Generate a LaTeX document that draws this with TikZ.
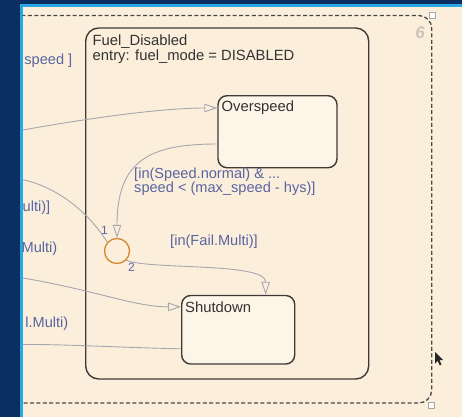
\documentclass[tikz,border=0pt]{standalone}
\usepackage{fontspec}
\setmainfont{Liberation Sans}
\usetikzlibrary{arrows.meta}

\definecolor{navy}{HTML}{0C2F62}
\definecolor{edgecyan}{HTML}{2AA8E4}
\definecolor{paper}{HTML}{FBEFDC}
\definecolor{paperlight}{HTML}{FDF5E7}
\definecolor{statebord}{HTML}{3E3B36}
\definecolor{wire}{HTML}{A6A6AE}
\definecolor{guard}{HTML}{5A64A0}
\definecolor{junc}{HTML}{D5872E}
\definecolor{boxdash}{HTML}{4A4844}
\definecolor{chartnum}{HTML}{CBC6BD}

\tikzset{
  statebox/.style={draw=statebord, line width=1.4pt, rounded corners=9pt,
    fill=paperlight, inner sep=0pt, anchor=north west},
  superbox/.style={draw=statebord, line width=1.4pt, rounded corners=13pt,
    inner sep=0pt, anchor=north west},
  statetext/.style={text=black!80, font=\fontsize{14.8}{15}\selectfont,
    anchor=base west, inner sep=0pt},
  guardtext/.style={text=guard, font=\fontsize{14.6}{14}\selectfont,
    anchor=base west, inner sep=0pt, align=left},
  ordertext/.style={text=guard, font=\fontsize{12}{12}\selectfont, inner sep=0pt},
  junction/.style={circle, draw=junc, line width=1.3pt, minimum size=25pt,
    inner sep=0pt},
  trans/.style={draw=wire, line width=0.9pt},
  transarr/.style={trans, -{Triangle[open, length=13pt, width=8.5pt, fill=paper]}},
  handle/.style={draw=black!35, fill=white, line width=0.6pt,
    minimum size=6pt, inner sep=0pt},
}

\begin{document}
\begin{tikzpicture}[x=1pt, y=-1pt]
\useasboundingbox (0,0) rectangle (462,417);

% window frame and canvas
\fill[navy] (0,0) rectangle (462,417);
\fill[paper] (22,6) rectangle (462,417);
\draw[edgecyan, line width=2.2pt] (21.5,417) -- (21.5,5.5) -- (462,5.5);

\begin{scope}
\clip (22.6,6.6) rectangle (462,417);

% dashed outer state boundary
\draw[boxdash, line width=1.3pt, dash pattern=on 4pt off 2.4pt, rounded corners=13pt]
  (-30,15.5) rectangle (431.7,403);
\node[handle] (hTop) at (432,15.5) {};
\node[handle] (hBot) at (431.7,405) {};
\node[text=chartnum, font=\fontsize{17}{17}\selectfont\bfseries\itshape] (num) at (420,33) {6};

% states
\node[superbox, minimum width=283pt, minimum height=351pt] (fd) at (85,27.3) {};
\node[statebox, minimum width=119pt, minimum height=72pt] (ovs) at (217.3,95) {};
\node[statebox, minimum width=113pt, minimum height=68.5pt] (shd) at (181,294.8) {};
\node[junction] (jn) at (117,251) {};

\node[statetext] (fdName) at (92.5,46) {Fuel\_Disabled};
\node[statetext] (fdEntry) at (92.5,61) {entry: fuel\_mode = DISABLED};
\node[statetext] (ovsName) at (221.5,111) {Overspeed};
\node[statetext] (shdName) at (185,312) {Shutdown};

% free ends of transitions leaving the view on the left
\coordinate (inA) at (20,130.5);
\coordinate (outB) at (20,179);
\coordinate (inC) at (20,277.5);
\coordinate (outD) at (20,344.5);

% transitions
\draw[transarr] (inA) .. controls (95,117) and (165,108) .. ([yshift=-13pt]ovs.north west);
\draw[trans] (jn.138) .. controls (95,222) and (65,188) .. (outB);
\draw[transarr] ([yshift=-49pt]ovs.north west) .. controls (150,144) and (117,160) .. (jn.north);
\draw[transarr] (jn.-45) .. controls (150,270) and (265.7,262) .. ([xshift=84.7pt]shd.north west);
\draw[transarr] (inC) .. controls (95,290) and (135,307) .. ([yshift=-12pt]shd.north west);
\draw[trans] ([yshift=-54pt]shd.north west) .. controls (120,347.5) and (60,344) .. (outD);

% transition labels
\node[guardtext] (gOvs) at (134,192.5) {[in(Speed.normal) \& ...\\speed < (max\_speed - hys)]};
\node[guardtext] (gFail) at (170,245) {[in(Fail.Multi)]};
\node[ordertext] (ord1) at (104.5,230.5) {1};
\node[ordertext] (ord2) at (131.5,267.5) {2};

\node[guardtext, anchor=base east] (gA) at (72.5,64.5) {speed ]};
\node[guardtext, anchor=base east] (gB) at (50.5,211) {ulti)]};
\node[guardtext, anchor=base east] (gC) at (57.5,252) {Multi)};
\node[guardtext, anchor=base east] (gD) at (68.5,327) {l.Multi)};

% mouse pointer
\fill[black!85, shift={(435,352)}, scale=0.72]
  (0,0) -- (0,16) -- (3.8,12.3) -- (6.6,18.6) -- (9,17.5) -- (6.3,11.3) -- (11.3,11.3) -- cycle;
\end{scope}
\end{tikzpicture}
\end{document}
